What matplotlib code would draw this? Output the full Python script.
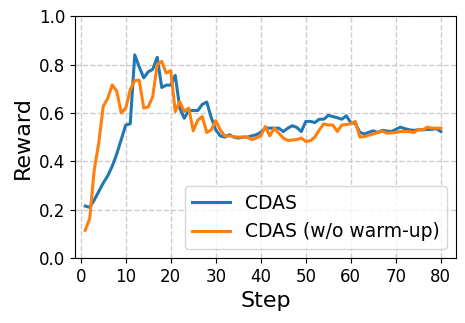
import numpy as np
import matplotlib
matplotlib.use("Agg")
import matplotlib.pyplot as plt

steps = np.arange(1, 81)

# CDAS
cdas = [0.215, 0.21, 0.24, 0.275, 0.31, 0.34, 0.38, 0.43, 0.49, 0.55,
        0.555, 0.84, 0.79, 0.745, 0.77, 0.78, 0.83, 0.705, 0.715, 0.715,
        0.755, 0.62, 0.578, 0.61, 0.61, 0.61, 0.635, 0.645, 0.58, 0.53,
        0.505, 0.50, 0.51, 0.50, 0.496, 0.50, 0.50, 0.505, 0.51, 0.52,
        0.537, 0.537, 0.537, 0.537, 0.523, 0.537, 0.547, 0.54, 0.523, 0.565,
        0.565, 0.56, 0.574, 0.574, 0.59, 0.585, 0.58, 0.574, 0.588, 0.56,
        0.556, 0.52, 0.513, 0.52, 0.526, 0.519, 0.528, 0.525, 0.523, 0.532,
        0.541, 0.535, 0.53, 0.528, 0.53, 0.53, 0.532, 0.532, 0.535, 0.523]

# CDAS (w/o warm-up)
cdas_nowarm = [0.115, 0.164, 0.364, 0.475, 0.627, 0.66, 0.716, 0.69, 0.60, 0.62,
               0.696, 0.734, 0.735, 0.62, 0.625, 0.668, 0.80, 0.813, 0.765, 0.775,
               0.606, 0.647, 0.606, 0.62, 0.526, 0.57, 0.585, 0.519, 0.53, 0.568,
               0.53, 0.505, 0.505, 0.502, 0.50, 0.50, 0.50, 0.49, 0.496, 0.505,
               0.544, 0.505, 0.537, 0.516, 0.496, 0.486, 0.488, 0.49, 0.496, 0.482,
               0.485, 0.50, 0.53, 0.555, 0.55, 0.55, 0.523, 0.55, 0.552, 0.556,
               0.565, 0.50, 0.502, 0.508, 0.513, 0.519, 0.525, 0.516, 0.518, 0.519,
               0.523, 0.523, 0.523, 0.519, 0.532, 0.53, 0.541, 0.537, 0.537, 0.537]

fig = plt.figure(figsize=(4.65, 3.23), dpi=100)
ax = fig.add_axes([0.161, 0.201, 0.82, 0.749])

ax.plot(steps, cdas, color='#1f77b4', linewidth=2.2, label='CDAS')
ax.plot(steps, cdas_nowarm, color='#ff7f0e', linewidth=2.2, label='CDAS (w/o warm-up)')

ax.set_xlim(-1.3, 83.4)
ax.set_ylim(0, 1.0)
ax.set_xticks(np.arange(0, 81, 10))
ax.set_yticks(np.arange(0, 1.01, 0.2))
ax.tick_params(labelsize=12)
ax.grid(True, linestyle='--', color='#cccccc', linewidth=1)

ax.set_xlabel('Step', fontsize=16)
ax.set_ylabel('Reward', fontsize=16)
ax.legend(loc='lower right', fontsize=13.5)

fig.savefig('out.png', dpi=100)
